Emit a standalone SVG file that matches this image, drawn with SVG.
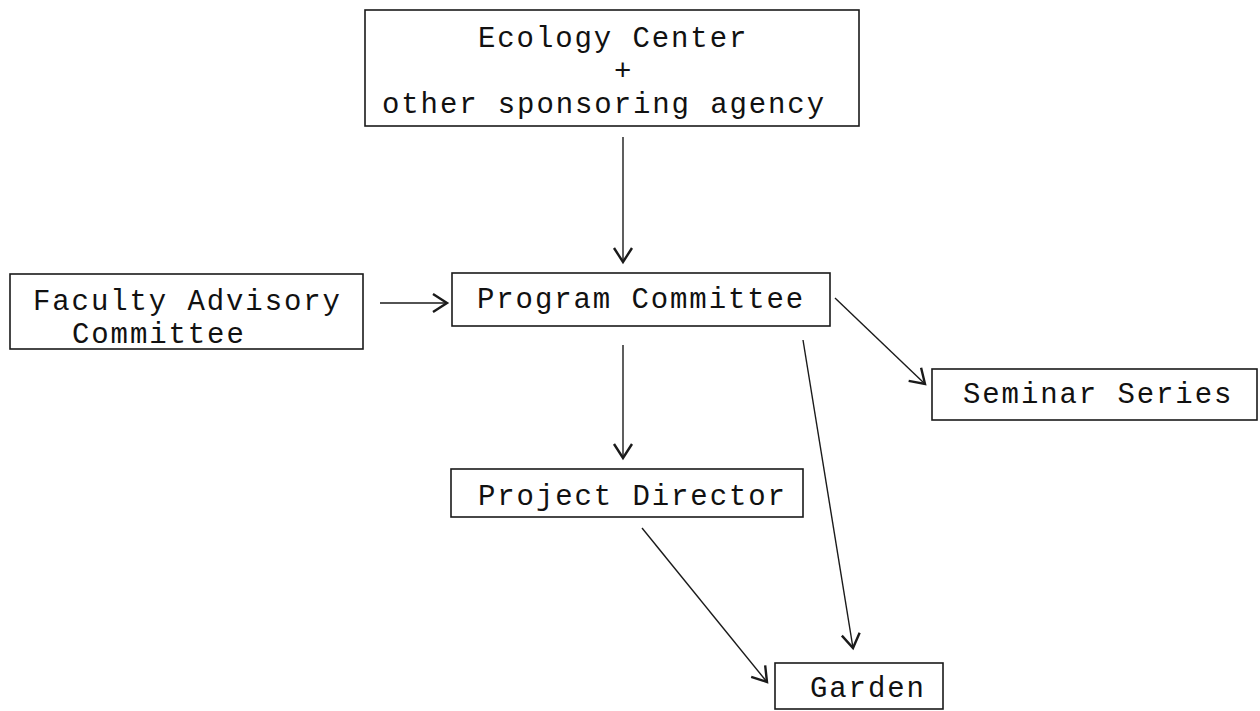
<svg xmlns="http://www.w3.org/2000/svg" width="1260" height="711" viewBox="0 0 1260 711">
<style>
.box{fill:none;stroke:#1a1a1a;stroke-width:1.6}
.t{font-family:"Liberation Mono","Courier New",monospace;font-size:29px;letter-spacing:1.9px;fill:#111}
.c{fill:none;stroke:#1a1a1a;stroke-width:1.4}
</style>
<defs>
<marker id="arr" markerUnits="userSpaceOnUse" markerWidth="24" markerHeight="24" viewBox="0 0 24 24" refX="20" refY="12" orient="auto">
<path d="M6,3 L20,12 L6,21" fill="none" stroke="#1a1a1a" stroke-width="2.4" stroke-linejoin="miter"/>
</marker>
</defs>
<rect width="1260" height="711" fill="#fff"/>
<g id="connectors">
<line class="c" x1="623" y1="137" x2="623" y2="262" marker-end="url(#arr)"/>
<line class="c" x1="380" y1="303" x2="447" y2="303" marker-end="url(#arr)"/>
<line class="c" x1="623" y1="345" x2="623" y2="458" marker-end="url(#arr)"/>
<line class="c" x1="835" y1="298" x2="925" y2="384" marker-end="url(#arr)"/>
<line class="c" x1="803" y1="340" x2="853" y2="648" marker-end="url(#arr)"/>
<line class="c" x1="642" y1="528" x2="767" y2="682" marker-end="url(#arr)"/>
</g>
<g id="ecology">
<rect class="box" x="365" y="10" width="494" height="116"/>
<text class="t" x="478" y="47">Ecology Center</text>
<text class="t" x="614" y="80">+</text>
<text class="t" x="382" y="113">other sponsoring agency</text>
</g>
<g id="faculty">
<rect class="box" x="10" y="274" width="353" height="75"/>
<text class="t" x="33" y="310">Faculty Advisory</text>
<text class="t" x="72" y="343">Committee</text>
</g>
<g id="program">
<rect class="box" x="452" y="273" width="378" height="53"/>
<text class="t" x="477" y="308">Program Committee</text>
</g>
<g id="seminar">
<rect class="box" x="932" y="369" width="325" height="51"/>
<text class="t" x="963" y="403">Seminar Series</text>
</g>
<g id="director">
<rect class="box" x="451" y="469" width="352" height="48"/>
<text class="t" x="478" y="505">Project Director</text>
</g>
<g id="garden">
<rect class="box" x="775" y="663" width="168" height="46"/>
<text class="t" x="810" y="697">Garden</text>
</g>
</svg>
